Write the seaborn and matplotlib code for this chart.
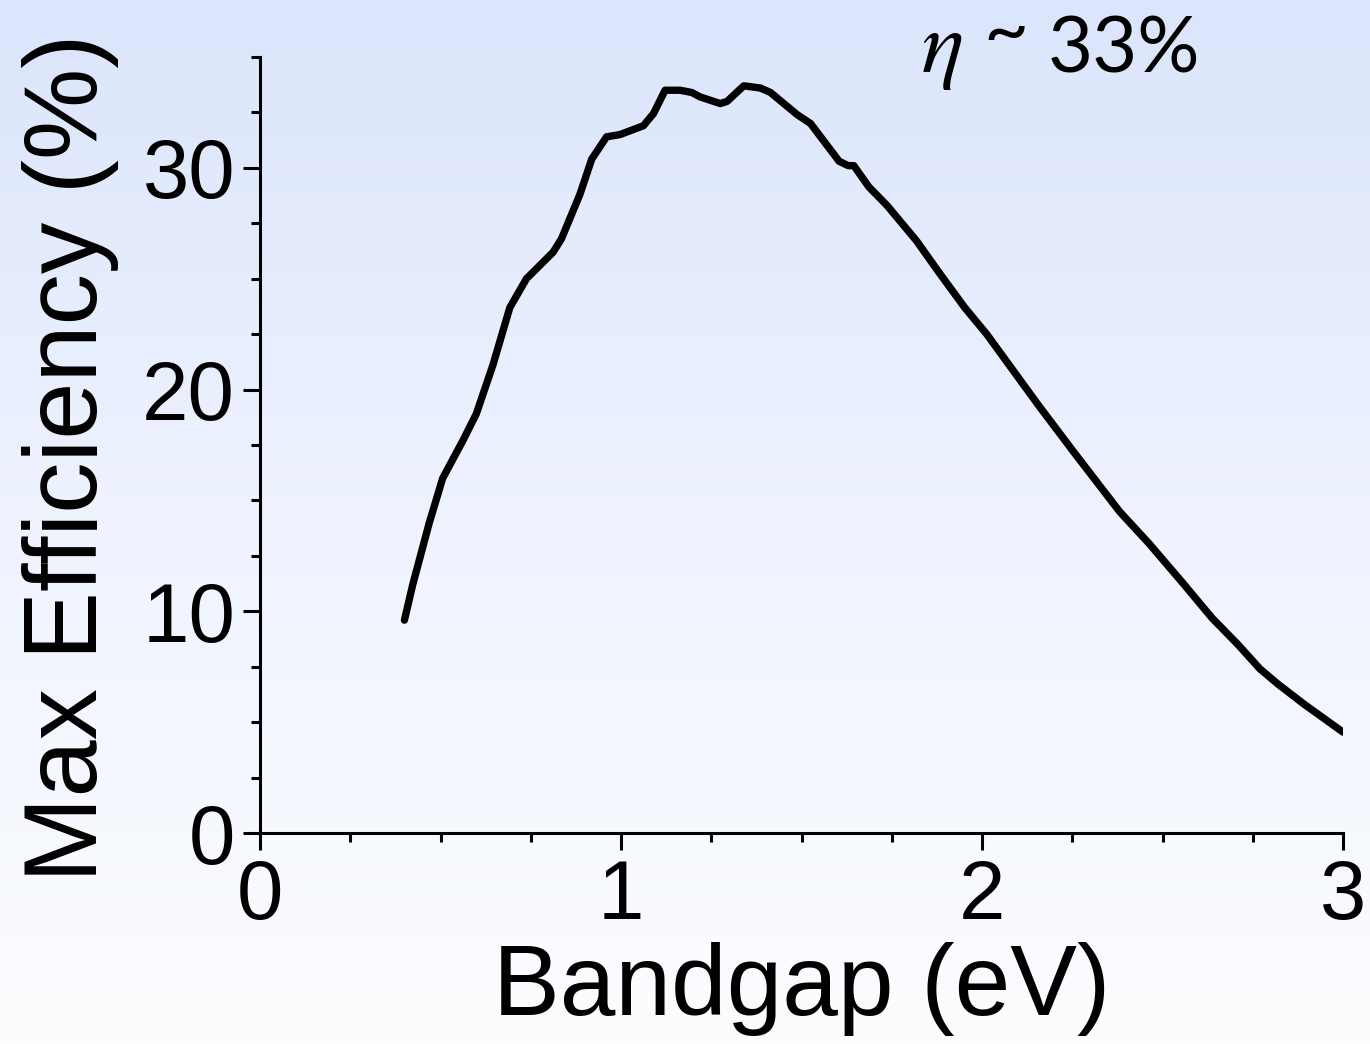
import numpy as np
import pandas as pd
import seaborn as sns
import matplotlib.pyplot as plt
from matplotlib.colors import LinearSegmentedColormap
from matplotlib.ticker import MultipleLocator

# Shockley-Queisser limit
bandgap = [0.40, 0.423, 0.469, 0.506, 0.562, 0.599, 0.645, 0.692, 0.738, 0.812,
           0.835, 0.886, 0.919, 0.960, 0.997, 1.062, 1.090, 1.122, 1.164, 1.196,
           1.219, 1.275, 1.294, 1.340, 1.386, 1.414, 1.488, 1.525, 1.604, 1.629,
           1.645, 1.686, 1.737, 1.819, 1.880, 1.952, 2.013, 2.156, 2.258, 2.381,
           2.463, 2.555, 2.637, 2.709, 2.770, 2.821, 2.893, 3.000]
efficiency = [9.6, 11.2, 14.0, 16.0, 17.7, 18.9, 21.1, 23.7, 25.0, 26.2,
              26.8, 28.8, 30.4, 31.4, 31.5, 31.9, 32.45, 33.5, 33.5, 33.4,
              33.2, 32.9, 33.0, 33.7, 33.6, 33.4, 32.4, 32.0, 30.3, 30.1,
              30.1, 29.15, 28.3, 26.7, 25.3, 23.7, 22.5, 19.3, 17.1, 14.5,
              13.05, 11.3, 9.7, 8.5, 7.4, 6.7, 5.8, 4.55]

df = pd.DataFrame({'Bandgap': bandgap, 'Efficiency': efficiency})

sns.set_style('ticks', {'axes.edgecolor': 'black', 'text.color': 'black',
                        'axes.labelcolor': 'black', 'xtick.color': 'black',
                        'ytick.color': 'black'})
plt.rcParams['font.family'] = ['Liberation Sans', 'DejaVu Sans']

fig = plt.figure(figsize=(13.7, 10.44), dpi=100)

# background gradient, light blue at top fading to white
bg = fig.add_axes([0, 0, 1, 1], zorder=0)
grad_cmap = LinearSegmentedColormap.from_list('bg', ['#dbe5fb', '#eef3fe', '#fcfdff'])
bg.imshow(np.linspace(0, 1, 256).reshape(-1, 1), aspect='auto', cmap=grad_cmap,
          extent=[0, 1, 0, 1])
bg.axis('off')

ax = fig.add_axes([0.1898, 0.2021, 0.7905, 0.7433], zorder=1)
ax.patch.set_alpha(0)
sns.lineplot(data=df, x='Bandgap', y='Efficiency', ax=ax, color='black',
             linewidth=5.3, sort=False, solid_joinstyle='round',
             solid_capstyle='round')

ax.set_xlim(0, 3)
ax.set_ylim(0, 35)
ax.xaxis.set_major_locator(MultipleLocator(1))
ax.xaxis.set_minor_locator(MultipleLocator(0.25))
ax.yaxis.set_major_locator(MultipleLocator(10))
ax.yaxis.set_minor_locator(MultipleLocator(2.5))
sns.despine(ax=ax)
for side in ['left', 'bottom']:
    ax.spines[side].set_linewidth(2.2)
ax.tick_params(which='major', length=12, width=2.2, labelsize=60, color='black',
               labelcolor='black')
ax.tick_params(which='minor', length=6.5, width=2.2, color='black')
ax.tick_params(axis='x', which='major', pad=6)
ax.tick_params(axis='y', which='major', pad=6)

ax.set_xlabel('Bandgap (eV)', fontsize=72, labelpad=4, color='black')
ax.set_ylabel('Max Efficiency (%)', fontsize=74, color='black')
ax.yaxis.set_label_coords(-0.13, 0.484)

fig.text(0.672, 0.931, r'$\eta$', fontsize=64, math_fontfamily='stix',
         ha='left', va='baseline', color='black')
fig.text(0.718, 0.946, '~', fontsize=56, family=['Lato', 'DejaVu Sans'],
         ha='left', va='baseline', color='black')
fig.text(0.765, 0.931, '33%', fontsize=56, family=['Lato', 'DejaVu Sans'],
         ha='left', va='baseline', color='black')

fig.savefig('out.png', dpi=100)
plt.close(fig)
